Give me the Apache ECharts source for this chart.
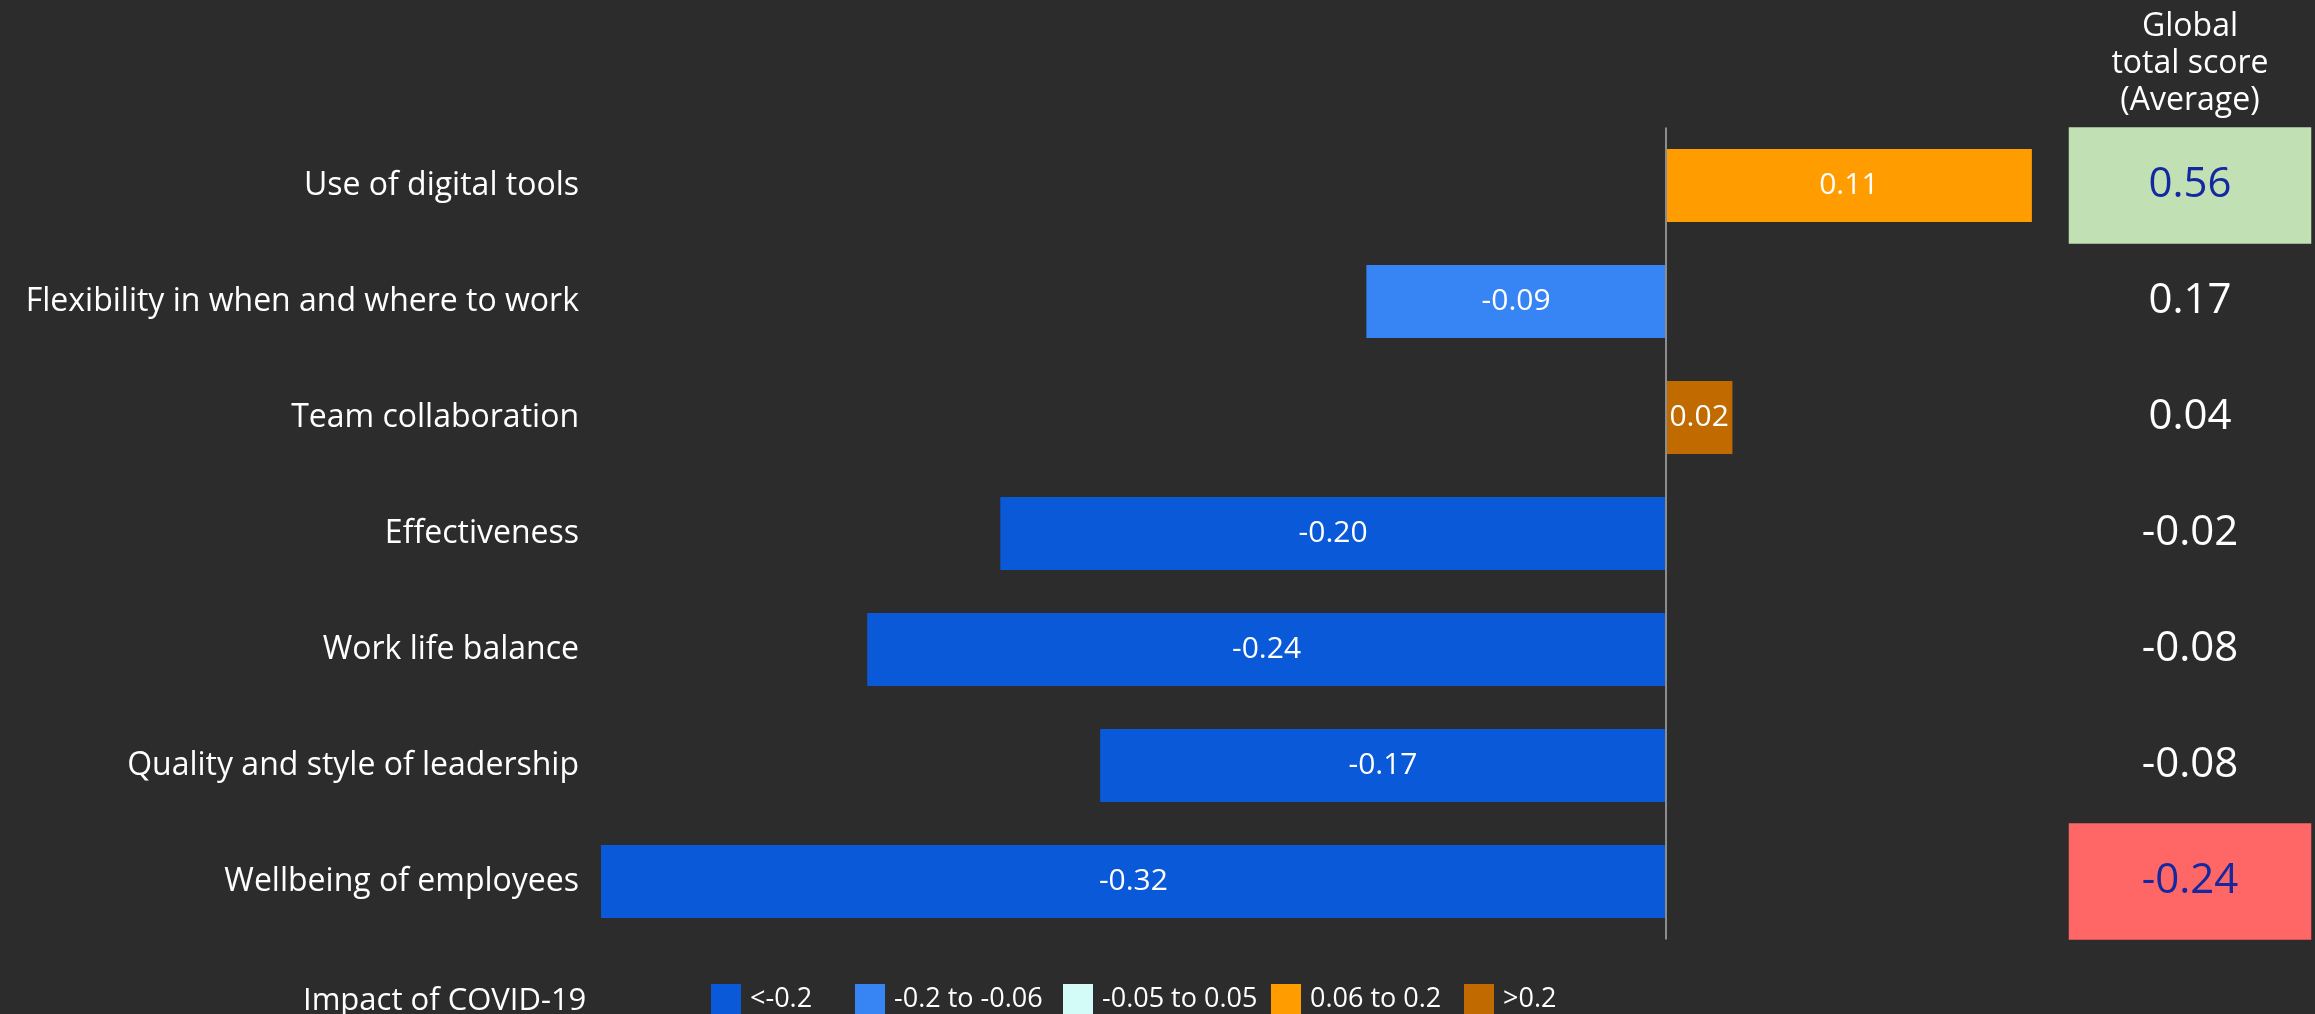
<!DOCTYPE html>
<html>
<head>
<meta charset="utf-8">
<title>Impact of COVID-19</title>
<script src="https://cdn.jsdelivr.net/npm/echarts@6/dist/echarts.min.js"></script>
<style>
html,body{margin:0;padding:0;background:#2c2c2c;}
#main{width:2315px;height:1014px;}
</style>
</head>
<body>
<div id="main"></div>
<script>
var categories=['Use of digital tools','Flexibility in when and where to work','Team collaboration','Effectiveness','Work life balance','Quality and style of leadership','Wellbeing of employees'];
var impact=[0.11,-0.09,0.02,-0.20,-0.24,-0.17,-0.32];
// colour class of each bar, as it is coloured in the picture
var impactClass=[3,1,4,0,0,0,0];
var globalScore=[0.56,0.17,0.04,-0.02,-0.08,-0.08,-0.24];
var classNames=['<-0.2','-0.2 to -0.06','-0.05 to 0.05','0.06 to 0.2','>0.2'];
var classColors=['#0a59d8','#3784f5','#d3fbf7','#ff9c00','#c06a00'];
var legendLeft=[711,855,1063,1271,1464];

var font="'Open Sans', sans-serif";
var chart=echarts.init(document.getElementById('main'));

var series=[];
for(var c=0;c<classNames.length;c++){
	var d=[];
	for(var i=0;i<impact.length;i++){
		d.push(impactClass[i]==c?impact[i]:'-');
	}
	var s={
		name:classNames[c],
		type:'bar',
		stack:'impact',
		xAxisIndex:0,
		yAxisIndex:0,
		barCategoryGap:'37%',
		itemStyle:{color:classColors[c]},
		label:{
			show:true,
			position:'inside',
			color:'#ffffff',
			fontFamily:font,
			fontSize:30,
			padding:[6,0,0,0],
			formatter:function(p){return p.value.toFixed(2);}
		},
		data:d
	};
	if(c==0){
		// zero line
		s.markLine={
			silent:true,
			symbol:'none',
			label:{show:false},
			lineStyle:{color:'#8c8c8c',width:2,type:'solid'},
			data:[{xAxis:0}]
		};
	}
	series.push(s);
}

var scoreData=[];
for(var i=0;i<globalScore.length;i++){
	var v=globalScore[i];
	var boxed=(v>=0.3||v<=-0.2);
	scoreData.push({value:[0,i,v],label:{color:boxed?'#1428a0':'#ffffff'}});
}
series.push({
	name:'score',
	type:'heatmap',
	xAxisIndex:1,
	yAxisIndex:1,
	label:{
		show:true,
		fontFamily:font,
		fontSize:42,
		padding:[6,0,0,0],
		formatter:function(p){return p.value[2].toFixed(2);}
	},
	emphasis:{disabled:true},
	data:scoreData
});

var legends=[];
for(var c=0;c<classNames.length;c++){
	legends.push({
		left:legendLeft[c],
		top:984,
		padding:0,
		icon:'rect',
		itemWidth:30,
		itemHeight:30,
		selectedMode:false,
		data:[classNames[c]],
		textStyle:{color:'#ffffff',fontFamily:font,fontSize:27,padding:[5,0,0,4]}
	});
}

var option={
	backgroundColor:'#2c2c2c',
	animation:false,
	grid:[
		{left:601,top:127.5,width:1564,height:812},
		{left:2069,top:127.5,width:242,height:812}
	],
	xAxis:[
		{type:'value',gridIndex:0,min:-0.32,max:0.15,show:false},
		{type:'category',gridIndex:1,data:['avg'],show:false}
	],
	yAxis:[
		{
			type:'category',
			gridIndex:0,
			inverse:true,
			data:categories,
			axisLine:{show:false},
			axisTick:{show:false},
			axisLabel:{color:'#ffffff',fontFamily:font,fontSize:32,margin:22,padding:[6,0,0,0]}
		},
		{type:'category',gridIndex:1,inverse:true,data:categories,show:false}
	],
	visualMap:{
		type:'piecewise',
		show:false,
		seriesIndex:5,
		dimension:2,
		pieces:[
			{gte:0.3,color:'#c1e1b5'},
			{lte:-0.2,color:'#ff6666'},
			{gt:-0.2,lt:0.3,color:'rgba(0,0,0,0)'}
		]
	},
	legend:legends,
	graphic:[
		{
			type:'text',
			x:2190,
			y:8,
			style:{
				text:'Global\ntotal score\n(Average)',
				align:'center',
				verticalAlign:'top',
				fill:'#ffffff',
				fontFamily:font,
				fontSize:32,
				lineHeight:37
			}
		},
		{
			type:'text',
			x:303,
			y:1001,
			style:{
				text:'Impact of COVID-19',
				align:'left',
				verticalAlign:'middle',
				fill:'#ffffff',
				fontFamily:font,
				fontSize:31
			}
		}
	],
	series:series
};
chart.setOption(option);
</script>
</body>
</html>
